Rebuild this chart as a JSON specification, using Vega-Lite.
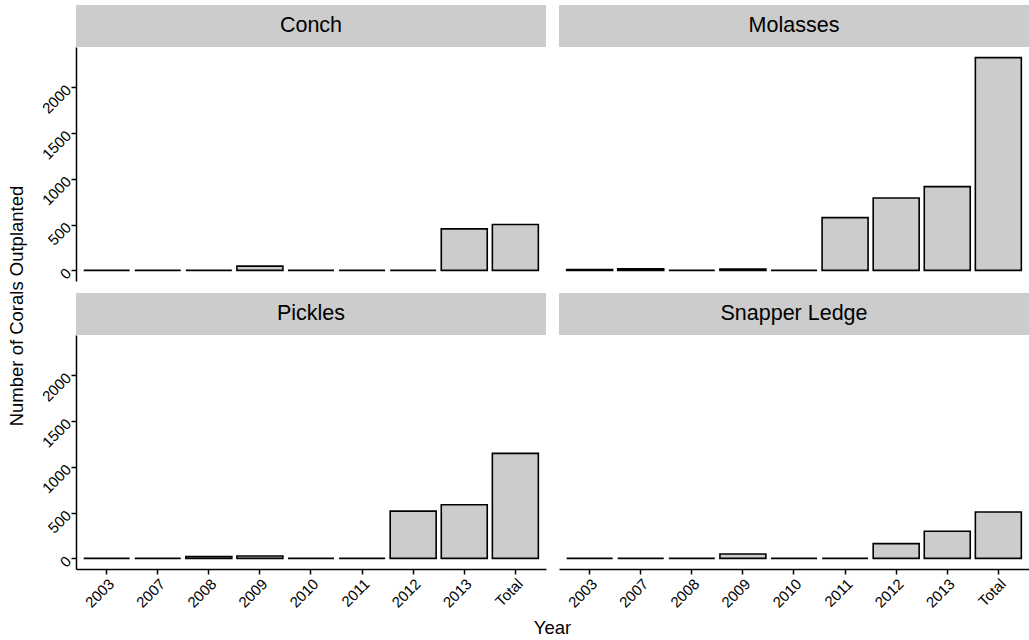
{
  "$schema": "https://vega.github.io/schema/vega-lite/v6.json",
  "autosize": {"type": "pad"},
  "padding": {"left": 7, "top": 5, "right": 0, "bottom": 0},
  "background": "white",
  "config": {
    "font": "Liberation Sans",
    "view": {"stroke": null},
    "axis": {
      "grid": false,
      "domainColor": "black",
      "domainWidth": 1.5,
      "tickColor": "black",
      "tickWidth": 1.5,
      "tickSize": 5,
      "labelColor": "black",
      "labelFont": "Liberation Sans",
      "labelFontSize": 15,
      "titleColor": "black",
      "titleFont": "Liberation Sans",
      "titleFontWeight": "normal"
    }
  },
  "data": {
    "values": [
      {"Site": "Conch", "Year": "2003", "Count": 0},
      {"Site": "Conch", "Year": "2007", "Count": 0},
      {"Site": "Conch", "Year": "2008", "Count": 0},
      {"Site": "Conch", "Year": "2009", "Count": 46},
      {"Site": "Conch", "Year": "2010", "Count": 0},
      {"Site": "Conch", "Year": "2011", "Count": 0},
      {"Site": "Conch", "Year": "2012", "Count": 0},
      {"Site": "Conch", "Year": "2013", "Count": 453},
      {"Site": "Conch", "Year": "Total", "Count": 500},
      {"Site": "Molasses", "Year": "2003", "Count": 10},
      {"Site": "Molasses", "Year": "2007", "Count": 17},
      {"Site": "Molasses", "Year": "2008", "Count": 0},
      {"Site": "Molasses", "Year": "2009", "Count": 15},
      {"Site": "Molasses", "Year": "2010", "Count": 0},
      {"Site": "Molasses", "Year": "2011", "Count": 575},
      {"Site": "Molasses", "Year": "2012", "Count": 790},
      {"Site": "Molasses", "Year": "2013", "Count": 913},
      {"Site": "Molasses", "Year": "Total", "Count": 2320},
      {"Site": "Pickles", "Year": "2003", "Count": 0},
      {"Site": "Pickles", "Year": "2007", "Count": 0},
      {"Site": "Pickles", "Year": "2008", "Count": 20},
      {"Site": "Pickles", "Year": "2009", "Count": 25},
      {"Site": "Pickles", "Year": "2010", "Count": 0},
      {"Site": "Pickles", "Year": "2011", "Count": 0},
      {"Site": "Pickles", "Year": "2012", "Count": 515},
      {"Site": "Pickles", "Year": "2013", "Count": 585},
      {"Site": "Pickles", "Year": "Total", "Count": 1145},
      {"Site": "Snapper Ledge", "Year": "2003", "Count": 0},
      {"Site": "Snapper Ledge", "Year": "2007", "Count": 0},
      {"Site": "Snapper Ledge", "Year": "2008", "Count": 0},
      {"Site": "Snapper Ledge", "Year": "2009", "Count": 48},
      {"Site": "Snapper Ledge", "Year": "2010", "Count": 0},
      {"Site": "Snapper Ledge", "Year": "2011", "Count": 0},
      {"Site": "Snapper Ledge", "Year": "2012", "Count": 161},
      {"Site": "Snapper Ledge", "Year": "2013", "Count": 296},
      {"Site": "Snapper Ledge", "Year": "Total", "Count": 505}
    ]
  },
  "spacing": 12,
  "hconcat": [
    {
      "transform": [{"filter": "datum.Site === 'Conch' && datum.Year === 'Total'"}],
      "width": 20, "height": 602,
      "mark": {"type": "text", "text": "Number of Corals Outplanted", "angle": 270, "fontSize": 18.5, "color": "black", "font": "Liberation Sans", "align": "center", "baseline": "middle"},
      "encoding": {}
    },
    {
      "spacing": 5,
      "vconcat": [
        {
          "spacing": 11,
          "vconcat": [
            {
              "spacing": 13,
              "hconcat": [
                {
                  "spacing": 0,
                  "vconcat": [
                    {
                      "transform": [{"filter": "datum.Site === 'Conch' && datum.Year === 'Total'"}],
                      "width": 470, "height": 42,
                      "view": {"fill": "#cccccc", "stroke": null},
                      "mark": {"type": "text", "fontSize": 21.5, "color": "black", "font": "Liberation Sans"},
                      "encoding": {"text": {"field": "Site", "type": "nominal"}}
                    },
                    {
                      "transform": [{"filter": "datum.Site === 'Conch'"}],
                      "width": 470, "height": 234,
                      "mark": {"type": "bar", "fill": "#cccccc", "stroke": "black", "strokeWidth": 1.6},
                      "encoding": {
                        "x": {"field": "Year", "type": "nominal", "sort": ["2003","2007","2008","2009","2010","2011","2012","2013","Total"], "scale": {"paddingInner": 0.1, "paddingOuter": 0.15}, "axis": null},
                        "y": {"field": "Count", "type": "quantitative", "scale": {"domain": [-116, 2436], "nice": false, "zero": false},
                          "axis": {"values": [0, 500, 1000, 1500, 2000], "format": "d", "labelAngle": -45, "labelAlign": "right", "labelBaseline": "middle", "labelPadding": 3, "title": null}}
                      }
                    }
                  ]
                },
                {
                  "spacing": 0,
                  "vconcat": [
                    {
                      "transform": [{"filter": "datum.Site === 'Molasses' && datum.Year === 'Total'"}],
                      "width": 470, "height": 42,
                      "view": {"fill": "#cccccc", "stroke": null},
                      "mark": {"type": "text", "fontSize": 21.5, "color": "black", "font": "Liberation Sans"},
                      "encoding": {"text": {"field": "Site", "type": "nominal"}}
                    },
                    {
                      "transform": [{"filter": "datum.Site === 'Molasses'"}],
                      "width": 470, "height": 234,
                      "mark": {"type": "bar", "fill": "#cccccc", "stroke": "black", "strokeWidth": 1.6},
                      "encoding": {
                        "x": {"field": "Year", "type": "nominal", "sort": ["2003","2007","2008","2009","2010","2011","2012","2013","Total"], "scale": {"paddingInner": 0.1, "paddingOuter": 0.15}, "axis": null},
                        "y": {"field": "Count", "type": "quantitative", "scale": {"domain": [-116, 2436], "nice": false, "zero": false}, "axis": null}
                      }
                    }
                  ]
                }
              ]
            },
            {
              "spacing": 13,
              "hconcat": [
                {
                  "spacing": 0,
                  "vconcat": [
                    {
                      "transform": [{"filter": "datum.Site === 'Pickles' && datum.Year === 'Total'"}],
                      "width": 470, "height": 42,
                      "view": {"fill": "#cccccc", "stroke": null},
                      "mark": {"type": "text", "fontSize": 21.5, "color": "black", "font": "Liberation Sans"},
                      "encoding": {"text": {"field": "Site", "type": "nominal"}}
                    },
                    {
                      "transform": [{"filter": "datum.Site === 'Pickles'"}],
                      "width": 470, "height": 234,
                      "mark": {"type": "bar", "fill": "#cccccc", "stroke": "black", "strokeWidth": 1.6},
                      "encoding": {
                        "x": {"field": "Year", "type": "nominal", "sort": ["2003","2007","2008","2009","2010","2011","2012","2013","Total"], "scale": {"paddingInner": 0.1, "paddingOuter": 0.15},
                          "axis": {"labelAngle": -45, "labelAlign": "right", "labelBaseline": "top", "labelPadding": 2, "title": null}},
                        "y": {"field": "Count", "type": "quantitative", "scale": {"domain": [-116, 2436], "nice": false, "zero": false},
                          "axis": {"values": [0, 500, 1000, 1500, 2000], "format": "d", "labelAngle": -45, "labelAlign": "right", "labelBaseline": "middle", "labelPadding": 3, "title": null}}
                      }
                    }
                  ]
                },
                {
                  "spacing": 0,
                  "vconcat": [
                    {
                      "transform": [{"filter": "datum.Site === 'Snapper Ledge' && datum.Year === 'Total'"}],
                      "width": 470, "height": 42,
                      "view": {"fill": "#cccccc", "stroke": null},
                      "mark": {"type": "text", "fontSize": 21.5, "color": "black", "font": "Liberation Sans"},
                      "encoding": {"text": {"field": "Site", "type": "nominal"}}
                    },
                    {
                      "transform": [{"filter": "datum.Site === 'Snapper Ledge'"}],
                      "width": 470, "height": 234,
                      "mark": {"type": "bar", "fill": "#cccccc", "stroke": "black", "strokeWidth": 1.6},
                      "encoding": {
                        "x": {"field": "Year", "type": "nominal", "sort": ["2003","2007","2008","2009","2010","2011","2012","2013","Total"], "scale": {"paddingInner": 0.1, "paddingOuter": 0.15},
                          "axis": {"labelAngle": -45, "labelAlign": "right", "labelBaseline": "top", "labelPadding": 2, "title": null}},
                        "y": {"field": "Count", "type": "quantitative", "scale": {"domain": [-116, 2436], "nice": false, "zero": false}, "axis": null}
                      }
                    }
                  ]
                }
              ]
            }
          ]
        },
        {
          "transform": [{"filter": "datum.Site === 'Conch' && datum.Year === 'Total'"}],
          "width": 953, "height": 24,
          "mark": {"type": "text", "text": "Year", "fontSize": 18.5, "color": "black", "font": "Liberation Sans", "align": "center", "baseline": "middle"},
          "encoding": {}
        }
      ]
    }
  ]
}
